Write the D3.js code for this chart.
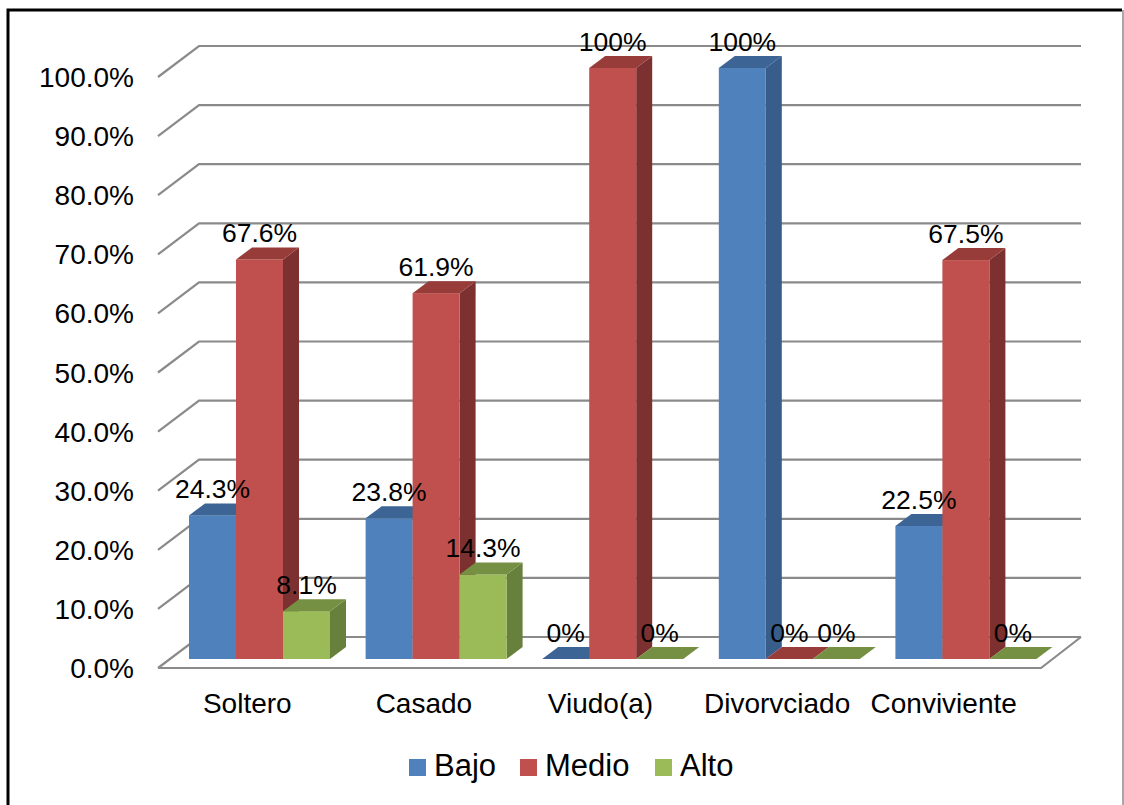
<!DOCTYPE html>
<html lang="es">
<head>
<meta charset="utf-8">
<title>Estado civil por nivel</title>
<script src="https://cdn.jsdelivr.net/npm/d3@7"></script>
<style>
  html, body { margin: 0; padding: 0; background: #fff; }
  svg { display: block; }
  text { font-family: "Liberation Sans", Arial, sans-serif; fill: #000; }
</style>
</head>
<body>
<svg id="chart" width="1124" height="805"></svg>
<script>
const categories = ["Soltero", "Casado", "Viudo(a)", "Divorvciado", "Conviviente"];
const seriesNames = ["Bajo", "Medio", "Alto"];
const bajo  = [24.3, 23.8, 0, 100, 22.5];
const medio = [67.6, 61.9, 100, 0, 67.5];
const alto  = [8.1, 14.3, 0, 0, 0];
const dataLabels = [
  ["24.3%", "23.8%", "0%", "100%", "22.5%"],
  ["67.6%", "61.9%", "100%", "0%", "67.5%"],
  ["8.1%", "14.3%", "0%", "0%", "0%"]
];
const tickValues = [0, 10, 20, 30, 40, 50, 60, 70, 80, 90, 100];

const faces = [
  { front: "#4f81bd", top: "#3c6494", side: "#385d8a" },
  { front: "#c0504d", top: "#983c3a", side: "#7c3130" },
  { front: "#9bbb59", top: "#769043", side: "#67803c" }
];

const svg = d3.select("#chart");
const values = [bajo, medio, alto];

// Box projection: the wall sits behind the floor, the columns halfway into it.
const floorLeft = 158, floorRight = 1041, floorFront = 668;
const wallDx = 41, wallDy = -31;
const barDx = 16, barDy = -12;
const barInset = 31;

const groupX = d3.scaleBand().domain(categories).range([floorLeft, floorRight]);
const barX = d3.scaleBand().domain(seriesNames).range([0, 141]);
const yWall = d3.scaleLinear().domain([0, 100]).range([floorFront, 77]);
const yBar = d3.scaleLinear().domain([0, 100]).range([659, 68]);

// Outer frame
svg.append("path")
  .attr("d", "M8,805V10H1122")
  .attr("fill", "none").attr("stroke", "#000").attr("stroke-width", 3);
svg.append("line")
  .attr("x1", 1123).attr("x2", 1123).attr("y1", 10).attr("y2", 805)
  .attr("stroke", "#8a8a8a").attr("stroke-width", 1.5);

// Gridlines: a diagonal on the side wall, then a run along the back wall
const grid = svg.append("g")
  .attr("fill", "none").attr("stroke", "#8a8a8a").attr("stroke-width", 2.2);
grid.selectAll("path").data(tickValues).join("path")
  .attr("d", v => {
    const y = yWall(v);
    return `M${floorLeft},${y}L${floorLeft + wallDx},${y + wallDy}H${floorRight + wallDx - 1}`;
  });
// Floor outline
grid.append("path")
  .attr("d", `M${floorLeft},${floorFront}H${floorRight}L${floorRight + wallDx - 1},${floorFront + wallDy}`);

// Value axis labels
svg.append("g").selectAll("text").data(tickValues).join("text")
  .attr("x", 134)
  .attr("y", v => yWall(v) + 10)
  .attr("text-anchor", "end")
  .attr("font-size", 28)
  .text(v => d3.format(".1f")(v) + "%");

// Columns, drawn series by series so each one overlaps the side of the previous
const bars = svg.append("g");
categories.forEach((cat, c) => {
  seriesNames.forEach((name, s) => {
    const v = values[s][c];
    const x0 = groupX(cat) + barInset + barX(name);
    const x1 = x0 + barX.bandwidth();
    const y0 = yBar(0), y1 = yBar(v);
    const g = bars.append("g");
    if (v > 0) {
      g.append("path").attr("fill", faces[s].side)
        .attr("d", `M${x1},${y1}l${barDx},${barDy}V${y0 + barDy}L${x1},${y0}Z`);
      g.append("rect").attr("fill", faces[s].front)
        .attr("x", x0).attr("y", y1)
        .attr("width", x1 - x0).attr("height", y0 - y1);
    }
    g.append("path").attr("fill", faces[s].top)
      .attr("d", `M${x0},${y1}L${x1},${y1}l${barDx},${barDy}H${x0 + barDx}Z`);
  });
});

// Data labels sit just above the back edge of each column
const labels = svg.append("g").attr("font-size", 26.5).attr("text-anchor", "middle");
categories.forEach((cat, c) => {
  seriesNames.forEach((name, s) => {
    labels.append("text")
      .attr("x", groupX(cat) + barInset + barX(name) + barX.bandwidth() / 2)
      .attr("y", yBar(values[s][c]) + barDy - 5)
      .attr("letter-spacing", 0)
      .text(dataLabels[s][c]);
  });
});

// Category labels; the last one is pulled left so it clears its neighbour
svg.append("g").selectAll("text").data(categories).join("text")
  .attr("x", (d, i) => groupX(d) + groupX.bandwidth() / 2 + (i === categories.length - 1 ? -9 : 1))
  .attr("y", 713)
  .attr("text-anchor", "middle")
  .attr("font-size", 28)
  .text(d => d);

// Legend
const legendX = d3.scaleOrdinal().domain(seriesNames).range([409, 520, 655]);
const legend = svg.append("g").selectAll("g").data(seriesNames).join("g")
  .attr("transform", d => `translate(${legendX(d)},759)`);
legend.append("rect")
  .attr("width", 17).attr("height", 17)
  .attr("fill", (d, i) => faces[i].front);
legend.append("text")
  .attr("x", 25).attr("y", 17)
  .attr("font-size", 31)
  .text(d => d);
</script>
</body>
</html>
